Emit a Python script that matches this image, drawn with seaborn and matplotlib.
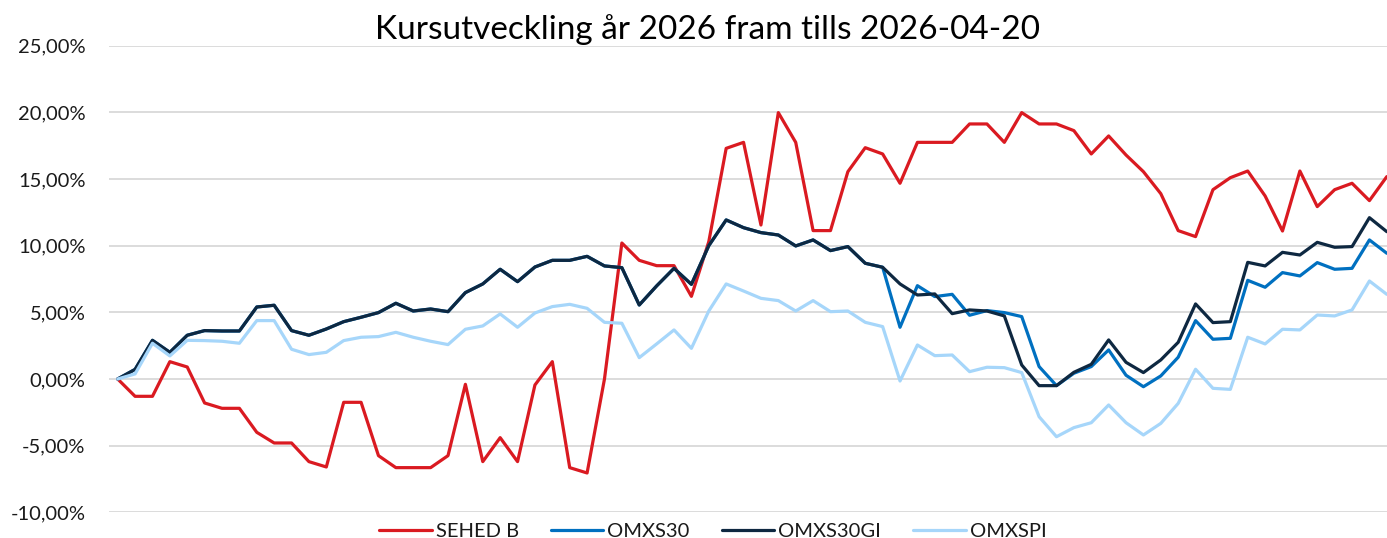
import matplotlib
matplotlib.use("Agg")
import matplotlib.pyplot as plt
import numpy as np
import pandas as pd
import seaborn as sns
from matplotlib.ticker import FuncFormatter, MultipleLocator

# Kursutveckling i procent, en punkt per handelsdag
sehed_b = [0, -1.3, -1.3, 1.3, 0.9, -1.8, -2.2, -2.2, -4.0, -4.8,
           -4.8, -6.2, -6.6, -1.75, -1.75, -5.75, -6.65, -6.65, -6.65, -5.75,
           -0.4, -6.2, -4.4, -6.2, -0.45, 1.3, -6.65, -7.05, 0.0, 10.2,
           8.9, 8.5, 8.5, 6.2, 10.3, 17.3, 17.75, 11.55, 19.98, 17.75,
           11.13, 11.13, 15.55, 17.35, 16.88, 14.68, 17.75, 17.75, 17.75, 19.13,
           19.13, 17.75, 19.98, 19.13, 19.13, 18.63, 16.88, 18.23, 16.8, 15.55,
           13.9, 11.13, 10.68, 14.2, 15.1, 15.6, 13.73, 11.1, 15.6, 12.93,
           14.2, 14.68, 13.38, 15.18]

omxs30 = [0, 0.72, 2.9, 2.0, 3.28, 3.63, 3.6, 3.6, 5.4, 5.53,
          3.63, 3.28, 3.75, 4.3, 4.63, 4.98, 5.68, 5.1, 5.25, 5.05,
          6.48, 7.13, 8.23, 7.3, 8.4, 8.9, 8.9, 9.2, 8.48, 8.35,
          5.55, 6.98, 8.3, 7.1, 10.0, 11.93, 11.35, 10.98, 10.8, 9.98,
          10.43, 9.63, 9.93, 8.68, 8.38, 3.88, 7.0, 6.18, 6.35, 4.78,
          5.13, 4.98, 4.68, 0.93, -0.5, 0.43, 0.93, 2.18, 0.28, -0.58,
          0.23, 1.63, 4.38, 2.98, 3.05, 7.4, 6.88, 7.98, 7.73, 8.73,
          8.23, 8.3, 10.43, 9.43]

omxs30gi = [0, 0.72, 2.9, 2.0, 3.28, 3.63, 3.6, 3.6, 5.4, 5.53,
            3.63, 3.28, 3.75, 4.3, 4.63, 4.98, 5.68, 5.1, 5.25, 5.05,
            6.48, 7.13, 8.23, 7.3, 8.4, 8.9, 8.9, 9.2, 8.48, 8.35,
            5.55, 6.98, 8.3, 7.1, 10.0, 11.93, 11.35, 10.98, 10.8, 9.98,
            10.43, 9.63, 9.93, 8.68, 8.38, 7.13, 6.3, 6.38, 4.9, 5.18,
            5.1, 4.73, 1.05, -0.5, -0.5, 0.5, 1.1, 2.93, 1.25, 0.48,
            1.43, 2.75, 5.63, 4.23, 4.3, 8.75, 8.48, 9.5, 9.3, 10.25,
            9.88, 9.93, 12.1, 11.05]

omxspi = [0, 0.38, 2.68, 1.73, 2.9, 2.88, 2.83, 2.68, 4.38, 4.38,
          2.23, 1.83, 2.0, 2.88, 3.13, 3.18, 3.5, 3.13, 2.83, 2.58,
          3.73, 3.98, 4.88, 3.88, 4.95, 5.43, 5.6, 5.3, 4.25, 4.18,
          1.6, 2.63, 3.68, 2.3, 5.1, 7.13, 6.6, 6.05, 5.88, 5.1,
          5.88, 5.05, 5.1, 4.25, 3.93, -0.15, 2.55, 1.75, 1.8, 0.55,
          0.88, 0.85, 0.48, -2.83, -4.33, -3.65, -3.28, -1.95, -3.28, -4.2,
          -3.33, -1.83, 0.73, -0.7, -0.78, 3.13, 2.63, 3.73, 3.68, 4.8,
          4.73, 5.18, 7.35, 6.35]

serier = ["SEHED B", "OMXS30", "OMXS30GI", "OMXSPI"]
farger = ["#DA1A21", "#0070C0", "#0E2841", "#A6D6FA"]
titel = "Kursutveckling år 2026 fram tills 2026-04-20"

dagar = np.arange(len(sehed_b))
df = pd.DataFrame({
    "dag": np.tile(dagar, 4),
    "utveckling": sehed_b + omxs30 + omxs30gi + omxspi,
    "serie": np.repeat(serier, len(dagar)),
})

sns.set_style("white")
plt.rcParams["font.family"] = ["Lato", "DejaVu Sans"]

fig = plt.figure(figsize=(13.87, 5.38), dpi=100)
ax = fig.add_axes([109 / 1387, 25.7 / 538, 1286.5 / 1387, 466.6 / 538])

sns.lineplot(data=df, x="dag", y="utveckling", hue="serie", hue_order=serier,
             palette=farger, linewidth=2.3, ax=ax, legend=False)

ax.set_xlim(-0.5, len(dagar) - 0.5)
ax.set_ylim(-10, 25)
ax.yaxis.set_major_locator(MultipleLocator(5))
ax.yaxis.set_major_formatter(FuncFormatter(lambda v, p: f"{v:.2f}%".replace(".", ",")))
ax.set_xticks([])
ax.set_xlabel("")
ax.set_ylabel("")
ax.grid(axis="y", color="#D9D9D9", linewidth=1.3)
ax.set_axisbelow(True)
for s in ax.spines.values():
    s.set_visible(False)
ax.tick_params(axis="y", length=0, pad=17, labelsize=14.5, labelcolor="#1A1A1A")

fig.text(0.51, 0.946, titel, ha="center", va="center", fontsize=24, color="#000000")

handles = [plt.Line2D([], [], color=c, linewidth=2.3) for c in farger]
fig.legend(handles, serier, loc="center", bbox_to_anchor=(0.514, 0.012), ncol=4,
           frameon=False, fontsize=14.5, handlelength=2.6, handletextpad=0.2,
           columnspacing=1.6, labelcolor="#1A1A1A")

fig.savefig("out.png", dpi=100)
